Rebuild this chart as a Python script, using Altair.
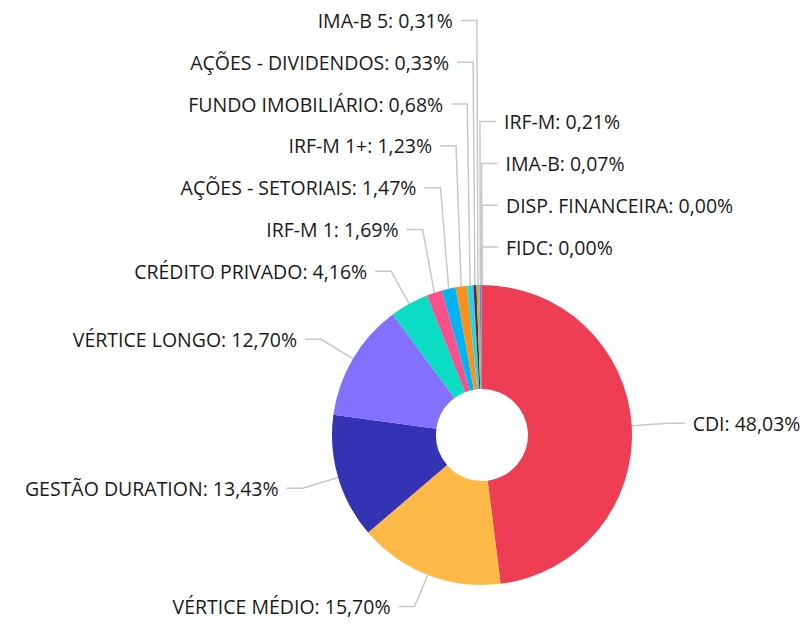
import math
import altair as alt
import pandas as pd

# ---- data ----
categories = ["CDI", "VÉRTICE MÉDIO", "GESTÃO DURATION", "VÉRTICE LONGO", "CRÉDITO PRIVADO",
              "IRF-M 1", "AÇÕES - SETORIAIS", "IRF-M 1+", "FUNDO IMOBILIÁRIO",
              "AÇÕES - DIVIDENDOS", "IMA-B 5", "IRF-M", "IMA-B", "DISP. FINANCEIRA", "FIDC"]
values = [48.03, 15.70, 13.43, 12.70, 4.16, 1.69, 1.47, 1.23, 0.68, 0.33, 0.31, 0.21, 0.07, 0.00, 0.00]
colors = ["#EE3E54", "#FFB946", "#3333B3", "#8470FF", "#0ADDC4", "#F7508C", "#00B3F5",
          "#F7921E", "#24D7E6", "#8A1053", "#8DD22F", "#A367DC", "#6771DC", "#DC67CE", "#DC6788"]

# ---- layout constants ----
W, H = 794, 611
CX, CY = 474, 427
R_OUT, R_IN = 150, 46
R_LAB, R_ELB = 188, 187
GAP, SEG, PAD = 41.8, 16, 8
FONT_SIZE = 19.5
TOP_MIN, BOTTOM_MAX = 12.5, H - 12.5

def fmt(v):
    return f"{v:.2f}".replace(".", ",") + "%"

total = sum(values)
rows = []
cum = 0.0
for i, (c, v) in enumerate(zip(categories, values)):
    a0 = cum / total * 360
    cum += v
    a1 = cum / total * 360
    mid = (a0 + a1) / 2
    rad = math.radians(mid)
    side = "right" if (mid < 180 or mid > 359) else "left"
    signed = mid - 360 if mid > 359 else mid
    rows.append(dict(idx=i, cat=c, value=v, mid=mid, rad=rad, side=side, signed=signed,
                     label=f"{c}: {fmt(v)}",
                     ax=CX + R_OUT * math.sin(rad), ay=CY - R_OUT * math.cos(rad),
                     ny=min(CY - R_LAB * math.cos(rad), BOTTOM_MAX)))

# resolve label overlaps per side (push upwards, then keep inside the top edge)
for side in ["left", "right"]:
    items = [r for r in rows if r["side"] == side]
    if side == "right":
        items.sort(key=lambda r: (r["signed"], r["idx"]))
    else:
        items.sort(key=lambda r: (-r["mid"], r["idx"]))
    ys = [r["ny"] for r in items]
    for k in range(len(ys) - 2, -1, -1):
        ys[k] = min(ys[k], ys[k + 1] - GAP)
    ys[0] = max(ys[0], TOP_MIN)
    for k in range(1, len(ys)):
        ys[k] = max(ys[k], ys[k - 1] + GAP)
    for r, y in zip(items, ys):
        r["ly"] = y

line_rows, text_rows = [], []
for r in rows:
    sgn = 1 if r["side"] == "right" else -1
    ex = CX + R_ELB * math.sin(r["rad"])
    end = ex + sgn * SEG
    tx = end + sgn * PAD
    for p, (x, y) in enumerate([(r["ax"], r["ay"]), (ex, r["ly"]), (end, r["ly"])]):
        line_rows.append(dict(cat=r["cat"], pt=p, px=x, py=y))
    text_rows.append(dict(label=r["label"], px=tx, py=r["ly"], side=r["side"]))

pie_df = pd.DataFrame({"cat": categories, "value": values, "idx": list(range(len(values)))})
line_df = pd.DataFrame(line_rows)
text_df = pd.DataFrame(text_rows)

xs = alt.Scale(domain=[0, W], nice=False, zero=False)
ys_ = alt.Scale(domain=[0, H], nice=False, zero=False, reverse=True)

pie = alt.Chart(pie_df).mark_arc(outerRadius=R_OUT, innerRadius=R_IN).encode(
    theta=alt.Theta("value:Q", stack=True),
    color=alt.Color("cat:N", scale=alt.Scale(domain=categories, range=colors), legend=None),
    order=alt.Order("idx:Q"),
    x=alt.value(CX),
    y=alt.value(CY),
)

lines = alt.Chart(line_df).mark_line(color="#c8c8c8", strokeWidth=1.5).encode(
    x=alt.X("px:Q", scale=xs, axis=None),
    y=alt.Y("py:Q", scale=ys_, axis=None),
    detail="cat:N",
    order="pt:Q",
)

base_text = alt.Chart(text_df)
text_left = base_text.transform_filter(alt.datum.side == "left").mark_text(
    align="right", baseline="middle", dy=1.5, font="Open Sans", fontSize=FONT_SIZE, color="#1a1a1a"
).encode(x=alt.X("px:Q", scale=xs, axis=None), y=alt.Y("py:Q", scale=ys_, axis=None), text="label:N")
text_right = base_text.transform_filter(alt.datum.side == "right").mark_text(
    align="left", baseline="middle", dy=1.5, font="Open Sans", fontSize=FONT_SIZE, color="#1a1a1a"
).encode(x=alt.X("px:Q", scale=xs, axis=None), y=alt.Y("py:Q", scale=ys_, axis=None), text="label:N")

chart = alt.layer(lines, pie, text_left, text_right).properties(
    width=W, height=H, padding=0, autosize="none"
).configure_view(stroke=None)

chart.save("out.html", embed_options={"renderer": "svg", "actions": False})
